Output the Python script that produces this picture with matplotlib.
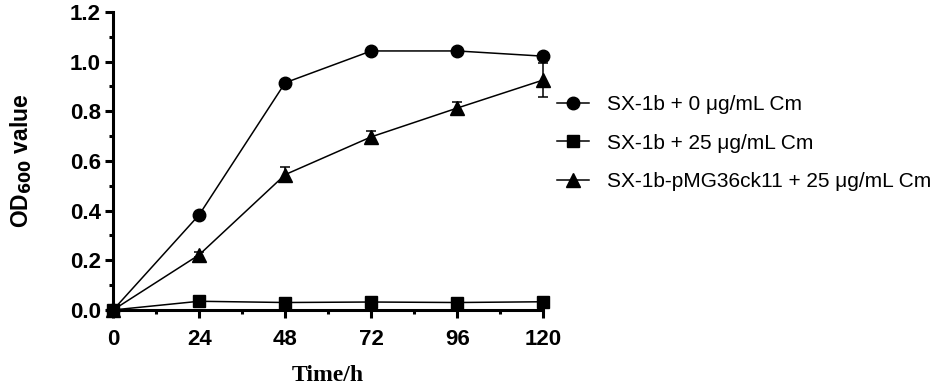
import matplotlib
matplotlib.use("Agg")
import matplotlib.pyplot as plt
from matplotlib.ticker import MultipleLocator, FormatStrFormatter

plt.rcParams['font.family'] = ['Liberation Sans', 'DejaVu Sans']

time_h = [0, 24, 48, 72, 96, 120]
labels = ["SX-1b + 0 μg/mL Cm", "SX-1b + 25 μg/mL Cm", "SX-1b-pMG36ck11 + 25 μg/mL Cm"]
od_0cm = [0.0, 0.383, 0.915, 1.043, 1.043, 1.022]
od_0cm_err = [0, 0.005, 0.008, 0.005, 0.005, 0.01]
od_25cm = [0.0, 0.035, 0.030, 0.032, 0.030, 0.033]
od_25cm_err = [0, 0.003, 0.003, 0.003, 0.003, 0.003]
od_pmg = [0.0, 0.222, 0.545, 0.697, 0.813, 0.926]
od_pmg_err = [0, 0.01, 0.030, 0.022, 0.025, 0.068]

fig = plt.figure(figsize=(9.35, 3.86), dpi=100)
ax = fig.add_axes([0.121, 0.197, 0.46, 0.772])

series = [(od_0cm, od_0cm_err, 'o', 9), (od_25cm, od_25cm_err, 's', 8.5), (od_pmg, od_pmg_err, '^', 9.5)]
for (vals, err, mk, ms), lab in zip(series, labels):
    ax.errorbar(time_h, vals, yerr=err, fmt='none', ecolor='black',
                elinewidth=1.1, capsize=3.6, capthick=1.1, clip_on=False, zorder=2)
    ax.plot(time_h, vals, color='black', marker=mk, markersize=ms,
            linewidth=1.1, label=lab, clip_on=False, zorder=3)

ax.set_xlim(0, 120)
ax.set_ylim(0, 1.2)
ax.xaxis.set_major_locator(MultipleLocator(24))
ax.xaxis.set_minor_locator(MultipleLocator(12))
ax.yaxis.set_major_locator(MultipleLocator(0.2))
ax.yaxis.set_minor_locator(MultipleLocator(0.1))
ax.yaxis.set_major_formatter(FormatStrFormatter('%.1f'))

for s in ['top', 'right']:
    ax.spines[s].set_visible(False)
for s in ['left', 'bottom']:
    ax.spines[s].set_linewidth(2.2)

ax.tick_params(which='major', length=5.5, width=2.2, labelsize=16)
ax.tick_params(which='minor', length=3, width=2.2)
ax.tick_params(axis='x', which='major', pad=8)
ax.tick_params(axis='y', which='major', pad=3.5)
for t in ax.get_xticklabels() + ax.get_yticklabels():
    t.set_fontweight('bold')

ax.set_ylabel("OD$_{\\mathbf{600}}$ value", fontsize=16.5, fontweight='bold', labelpad=26)
ax.set_xlabel("Time/h", fontsize=17, fontweight='bold', family='Liberation Serif', labelpad=11)

ax.legend(loc='upper left', bbox_to_anchor=(557/935, 1 - 95/386), bbox_transform=fig.transFigure,
          frameon=False, fontsize=15, handlelength=1.55, handletextpad=0.85,
          labelspacing=0.94, borderpad=0, borderaxespad=0, markerscale=1.0)

fig.savefig("out.png", dpi=100)
